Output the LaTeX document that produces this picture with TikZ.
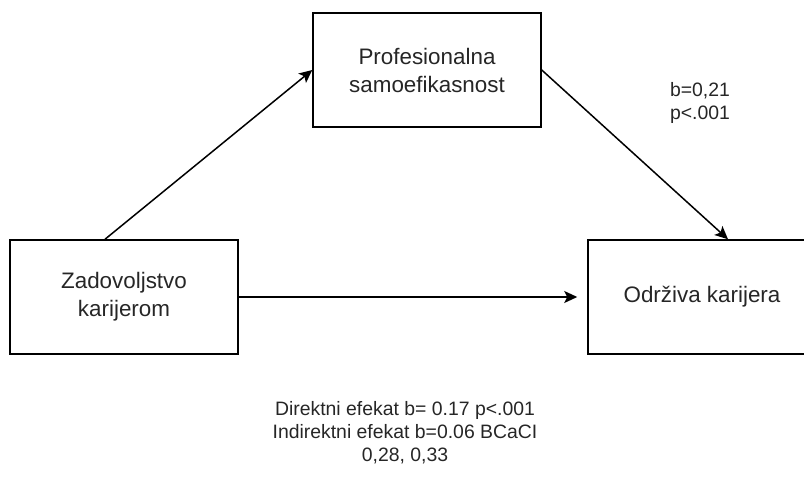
\documentclass[tikz,border=0pt]{standalone}
\usepackage{fontspec}
\setmainfont{Liberation Sans}
\usetikzlibrary{arrows.meta}
\begin{document}
\begin{tikzpicture}[x=1pt,y=-1pt,
  box/.style={draw, line width=1.5pt, minimum width=228pt, minimum height=114pt,
    inner sep=0pt, align=center, font=\fontsize{22.4}{28}\selectfont, text=black!85},
  arr/.style={line width=1.5pt, -{Stealth[length=13pt,width=12pt,inset=3pt]}},
  lbl/.style={align=center, font=\fontsize{19.4}{23}\selectfont, text=black!85}]
\useasboundingbox (0,0) rectangle (804,477);
\clip (0,0) rectangle (804,477);
\node[box] (zad) at (124,297) {Zadovoljstvo\\karijerom};
\node[box] (prof) at (427,70) {Profesionalna\\samoefikasnost};
\node[box] (odr) at (702,297) {Održiva karijera};
\draw[arr] ([xshift=-19pt]zad.north) -- (prof.west);
\draw[arr] (prof.east) -- ([xshift=26pt]odr.north);
\draw[arr, shorten >=10pt] (zad) -- (odr);
\node[lbl] (bval) at (700,103) {b=0,21\\p<.001};
\node[lbl] (eff) at (405,433) {Direktni efekat b= 0.17 p<.001\\Indirektni efekat b=0.06 BCaCI\\0,28, 0,33};
\end{tikzpicture}
\end{document}
